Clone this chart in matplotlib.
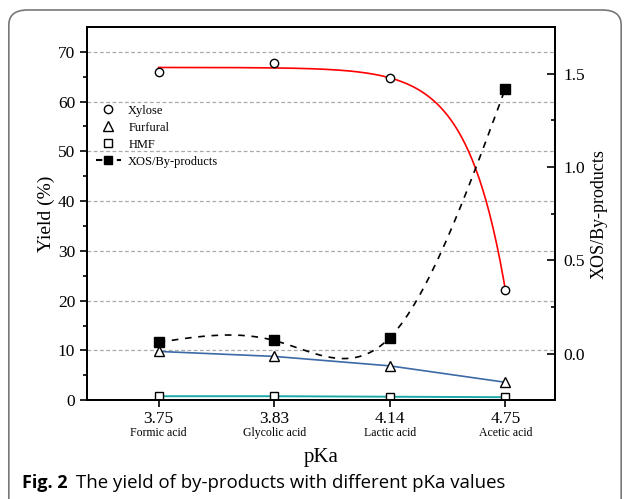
import numpy as np
import matplotlib
matplotlib.use('Agg')
import matplotlib.pyplot as plt
from matplotlib.patches import FancyBboxPatch
from matplotlib.lines import Line2D
import matplotlib.transforms as mtransforms

plt.rcParams['font.family'] = ['Liberation Serif', 'DejaVu Serif']

pka_labels = ['3.75', '3.83', '4.14', '4.75']
acids = ['Formic acid', 'Glycolic acid', 'Lactic acid', 'Acetic acid']
xylose = [66.0, 67.7, 64.7, 22.2]
furfural = [9.8, 8.8, 6.9, 3.6]
hmf = [0.8, 0.8, 0.7, 0.6]
xos_ratio = [0.06, 0.07, 0.085, 1.42]

x = np.arange(len(pka_labels))


def natural_spline(xs, ys, n=200):
    xs = np.asarray(xs, float)
    ys = np.asarray(ys, float)
    m = len(xs)
    h = np.diff(xs)
    A = np.zeros((m, m))
    r = np.zeros(m)
    A[0, 0] = A[-1, -1] = 1
    for i in range(1, m - 1):
        A[i, i - 1] = h[i - 1]
        A[i, i] = 2 * (h[i - 1] + h[i])
        A[i, i + 1] = h[i]
        r[i] = 6 * ((ys[i + 1] - ys[i]) / h[i] - (ys[i] - ys[i - 1]) / h[i - 1])
    M = np.linalg.solve(A, r)
    xx = np.linspace(xs[0], xs[-1], n)
    yy = np.empty_like(xx)
    for j, t in enumerate(xx):
        i = min(np.searchsorted(xs, t, side='right') - 1, m - 2)
        a, b = xs[i], xs[i + 1]
        hi = b - a
        yy[j] = (M[i] * (b - t) ** 3 / (6 * hi) + M[i + 1] * (t - a) ** 3 / (6 * hi)
                 + (ys[i] / hi - M[i] * hi / 6) * (b - t)
                 + (ys[i + 1] / hi - M[i + 1] * hi / 6) * (t - a))
    return xx, yy


def exp_fit(xs, ys):
    # y = A - B*exp(k*x), grid search on k, least squares for A, B
    xs = np.asarray(xs, float)
    ys = np.asarray(ys, float)
    best = None
    for k in np.linspace(0.5, 6, 1101):
        X = np.column_stack([np.ones_like(xs), -np.exp(k * xs)])
        coef, *_ = np.linalg.lstsq(X, ys, rcond=None)
        err = np.sum((X @ coef - ys) ** 2)
        if best is None or err < best[0]:
            best = (err, k, coef)
    _, k, (a, b) = best
    xx = np.linspace(xs[0], xs[-1], 200)
    return xx, a - b * np.exp(k * xx)


fig = plt.figure(figsize=(6.3, 4.99), dpi=100)
fig.patches.append(FancyBboxPatch((0.014, -0.05), 0.972, 1.03,
                                  boxstyle='round,pad=0,rounding_size=0.03',
                                  transform=fig.transFigure, fill=False,
                                  edgecolor='#777777', linewidth=1.2))

ax = fig.add_axes([0.138, 0.198, 0.743, 0.748])
ax2 = ax.twinx()

# xylose with exponential fit
fx, fy = exp_fit(x, xylose)
ax.plot(fx, fy, color='red', lw=1.2, zorder=3)
ax.plot(x, xylose, 'o', mfc='white', mec='black', ms=6, mew=1, zorder=4)
ax.plot(x, furfural, '-', color='#3b6aa6', lw=1.2, zorder=3)
ax.plot(x, furfural, '^', mfc='white', mec='black', ms=7, mew=1, zorder=4)
ax.plot(x, hmf, '-', color='#1fa8a8', lw=1.4, zorder=3)
ax.plot(x, hmf, 's', mfc='white', mec='black', ms=6, mew=1, zorder=4)

sx, sy = natural_spline(x, xos_ratio)
ax2.plot(sx, sy, '--', color='black', lw=1.2, dashes=(4, 4))
ax2.plot(x, xos_ratio, 's', color='black', ms=7)

ax.set_xlim(-0.62, 3.43)
ax.set_ylim(0, 75)
ax2.set_ylim(-0.25, 1.75)
ax.set_yticks(np.arange(0, 71, 10))
ax.set_yticks(np.arange(5, 75, 10), minor=True)
ax2.set_yticks([0.0, 0.5, 1.0, 1.5])
ax2.set_yticks([-0.25, 0.25, 0.75, 1.25, 1.75], minor=True)
ax2.set_yticklabels(['0.0', '0.5', '1.0', '1.5'])
ax.set_xticks(x)
ax.set_xticklabels(pka_labels)

for g in range(10, 71, 10):
    ax.axhline(g, color='#aaaaaa', ls=(0, (3, 2)), lw=0.9, zorder=1)

ax.tick_params(axis='y', which='major', direction='out', length=5, width=1.2, labelsize=12.5)
ax.tick_params(axis='y', which='minor', direction='out', length=3, width=1.2)
ax.tick_params(axis='x', direction='out', length=5, width=1.2, labelsize=12.5, pad=3)
ax2.tick_params(axis='y', which='major', direction='in', length=6, width=1.2, labelsize=12.5, pad=6)
ax2.tick_params(axis='y', which='minor', direction='in', length=3, width=1.2)
for s in ['left', 'right', 'top', 'bottom']:
    ax.spines[s].set_linewidth(1.4)
    ax2.spines[s].set_linewidth(1.4)

trans = mtransforms.blended_transform_factory(ax.transData, ax.transAxes)
for xi, name in zip(x, acids):
    ax.text(xi, -0.071, name, transform=trans, ha='center', va='top', fontsize=8.5)

ax.set_xlabel('pKa', fontsize=15, labelpad=15)
ax.set_ylabel('Yield (%)', fontsize=14, labelpad=2)
ax2.set_ylabel('XOS/By-products', fontsize=13, labelpad=4)

handles = [
    Line2D([], [], ls='none', marker='o', mfc='white', mec='black', ms=6),
    Line2D([], [], ls='none', marker='^', mfc='white', mec='black', ms=7),
    Line2D([], [], ls='none', marker='s', mfc='white', mec='black', ms=6),
    Line2D([], [], ls='--', color='black', marker='s', ms=6, dashes=(3, 2)),
]
ax.legend(handles, ['Xylose', 'Furfural', 'HMF', 'XOS/By-products'],
          loc='upper left', bbox_to_anchor=(0.0, 0.815), frameon=False,
          fontsize=9, handlelength=2.0, handletextpad=0.6, labelspacing=0.4,
          borderaxespad=0.3)

fig.text(0.035, 0.032, 'Fig. 2', fontsize=13, fontweight='bold',
         family=['Open Sans', 'DejaVu Sans'], va='center')
fig.text(0.12, 0.032, 'The yield of by-products with different pKa values', fontsize=13.4,
         family=['Open Sans', 'DejaVu Sans'], va='center')

fig.savefig('out.png', dpi=100)
